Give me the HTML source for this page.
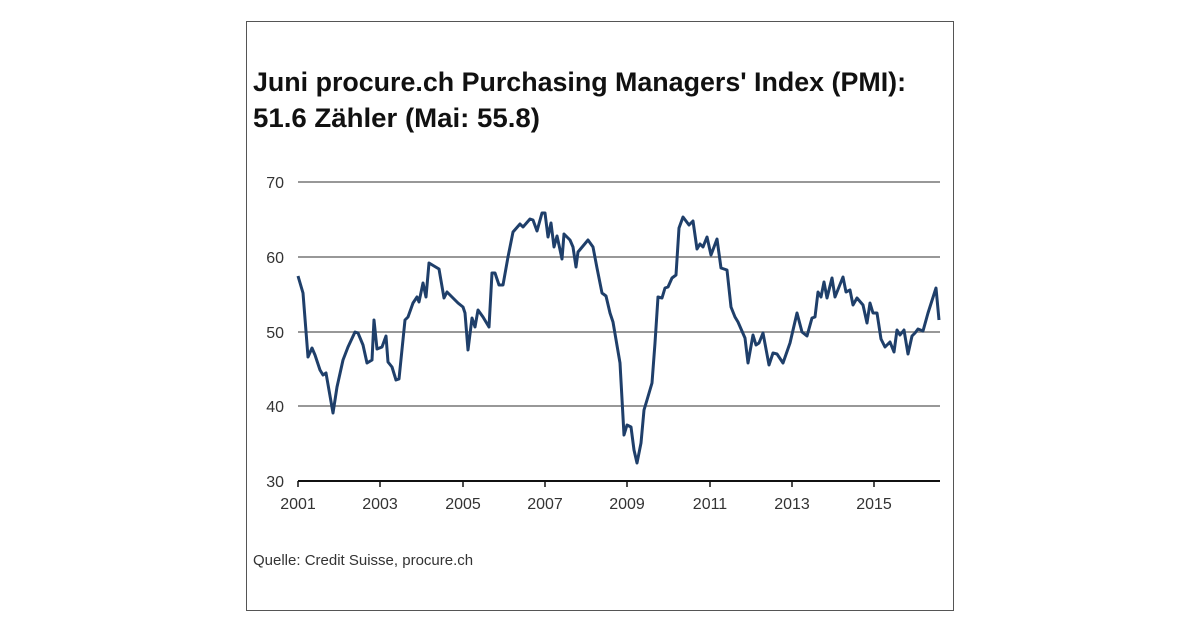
<!DOCTYPE html>
<html><head><meta charset="utf-8"><style>
body{margin:0;background:#fff;width:1200px;height:629px;overflow:hidden;font-family:"Liberation Sans",sans-serif}
</style></head><body>
<svg width="1200" height="629" viewBox="0 0 1200 629" xmlns="http://www.w3.org/2000/svg" font-family="Liberation Sans, sans-serif">
<rect x="246.5" y="21.5" width="707" height="589" fill="#fff" stroke="#555" stroke-width="1"/>
<text x="253" y="91" font-size="27" font-weight="bold" fill="#111" textLength="653" lengthAdjust="spacingAndGlyphs">Juni procure.ch Purchasing Managers' Index (PMI):</text>
<text x="253" y="127" font-size="27" font-weight="bold" fill="#111" textLength="287" lengthAdjust="spacingAndGlyphs">51.6 Zähler (Mai: 55.8)</text>
<g stroke="#777" stroke-width="1.5">
<line x1="298" y1="182" x2="940" y2="182"/><line x1="298" y1="257" x2="940" y2="257"/>
<line x1="298" y1="332" x2="940" y2="332"/><line x1="298" y1="406" x2="940" y2="406"/>
</g>
<line x1="298" y1="481" x2="940" y2="481" stroke="#111" stroke-width="2"/>
<g stroke="#111" stroke-width="1.5">
<line x1="298" y1="481" x2="298" y2="487"/><line x1="380" y1="481" x2="380" y2="487"/><line x1="463" y1="481" x2="463" y2="487"/><line x1="545" y1="481" x2="545" y2="487"/><line x1="627" y1="481" x2="627" y2="487"/><line x1="710" y1="481" x2="710" y2="487"/><line x1="792" y1="481" x2="792" y2="487"/><line x1="874" y1="481" x2="874" y2="487"/>
</g>
<g font-size="16" fill="#333" text-anchor="end">
<text x="284" y="188">70</text><text x="284" y="263">60</text><text x="284" y="338">50</text><text x="284" y="412">40</text><text x="284" y="487">30</text>
</g>
<g font-size="16" fill="#333" text-anchor="middle">
<text x="298" y="509">2001</text><text x="380" y="509">2003</text><text x="463" y="509">2005</text><text x="545" y="509">2007</text><text x="627" y="509">2009</text><text x="710" y="509">2011</text><text x="792" y="509">2013</text><text x="874" y="509">2015</text>
</g>
<text x="253" y="565" font-size="15" fill="#333">Quelle: Credit Suisse, procure.ch</text>
<polyline fill="none" stroke="#1f3f6a" stroke-width="3" stroke-linejoin="round" points="298,276 303,293 308,357 312,348 315,355 320,370 323,375 326,373 333,413 337,387 343,360 348,347 355,332 358,333 363,345 367,363 372,360 374,320 377,349 382,347 386,336 388,362 392,367 396,380 399,379 405,320 408,317 413,303 417,297 419,302 423,283 426,297 429,263 439,269 444,298 447,292 453,298 458,303 463,307 465,313 468,350 472,318 475,327 478,310 483,317 489,327 492,273 495,273 499,285 503,285 508,257 513,232 520,224 523,227 530,219 533,220 537,231 542,213 545,213 548,237 551,223 554,247 557,236 559,245 562,259 564,234 570,240 573,247 576,267 578,252 588,240 593,247 597,268 602,293 606,296 610,313 613,322 620,363 624,435 627,425 631,427 634,450 637,463 641,443 644,410 647,400 652,383 655,343 658,297 662,298 665,288 668,287 672,278 676,275 679,228 683,217 689,225 693,221 697,249 700,244 703,247 707,237 711,255 717,239 721,268 727,270 731,307 735,317 738,322 745,338 748,363 753,335 756,345 759,343 763,333 769,365 773,353 777,354 783,363 790,343 797,313 802,332 807,336 812,318 815,317 818,292 821,297 824,282 827,298 832,278 835,297 843,277 846,292 850,290 853,305 857,298 863,305 867,323 870,303 873,313 877,313 881,339 885,347 890,342 894,352 897,330 900,335 904,330 908,354 912,336 915,333 918,329 923,331 928,313 936,288 939,320"/>
</svg>
</body></html>
